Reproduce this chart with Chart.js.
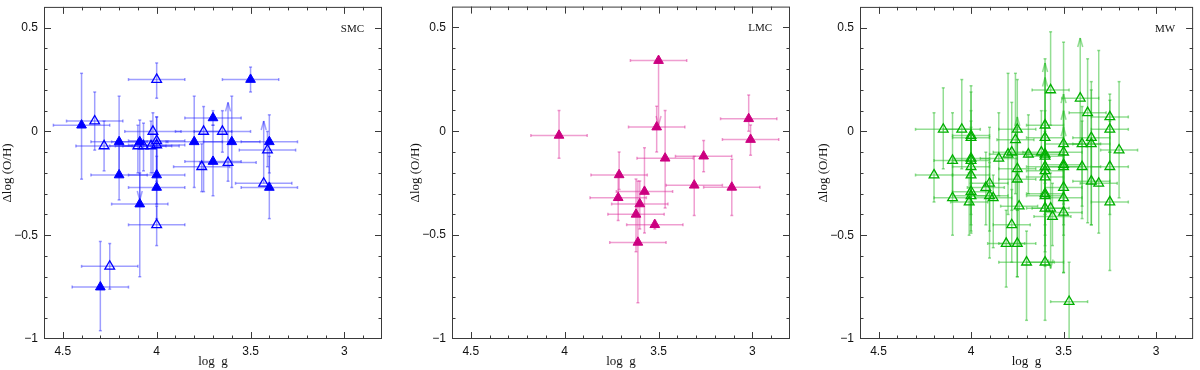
<!DOCTYPE html>
<html>
<head>
<meta charset="utf-8">
<script src="https://cdn.jsdelivr.net/npm/chart.js@4.4.1/dist/chart.umd.min.js"></script>
<style>
  body { margin: 0; background: #fff; }
  #wrap { position: relative; width: 1200px; height: 370px; overflow: hidden; }
  canvas { position: absolute; top: 0; }
</style>
</head>
<body>
<div id="wrap">
  <canvas id="smc" width="408" height="370" style="left:0"></canvas>
  <canvas id="lmc" width="408" height="370" style="left:408px"></canvas>
  <canvas id="mw" width="384" height="370" style="left:816px"></canvas>
</div>
<script>
// axis ticks
const xTickVals = [4.5, 4, 3.5, 3];
const yTickVals = [0.5, 0, -0.5, -1];

// SMC: first 15 filled, rest open
const smcLogg = [4.40, 4.20, 4.20, 4.09, 4.09, 4.00, 4.00, 3.80, 3.70, 3.70, 3.60, 3.50, 3.40, 3.40, 4.30,
                 4.33, 4.28, 4.00, 4.02, 4.00, 4.00, 4.03, 4.10, 4.07, 4.00, 4.25, 3.75, 3.65, 3.62, 3.76, 3.41, 3.43];
const smcDoh = [0.03, -0.05, -0.21, -0.05, -0.35, -0.21, -0.27, -0.05, 0.065, -0.145, -0.05, 0.25, -0.05, -0.27, -0.75,
                0.05, -0.07, 0.25, 0.00, -0.045, -0.065, -0.07, -0.07, -0.07, -0.45, -0.65, 0.00, 0.00, -0.15, -0.17, -0.09, -0.25];
const smcErrX = [0.15, 0.15, 0.15, 0.15, 0.15, 0.15, 0.15, 0.15, 0.15, 0.15, 0.15, 0.15, 0.15, 0.15, 0.15,
                 0.15, 0.15, 0.15, 0.15, 0.15, 0.15, 0.15, 0.15, 0.15, 0.15, 0.15, 0.15, 0.15, 0.15, 0.15, 0.15, 0.15];
const smcLo = [-0.23, -0.20, -0.33, null, -0.70, -0.35, -0.42, -0.27, 0.03, -0.31, -0.27, 0.19, -0.20, -0.42, -0.96,
               -0.09, -0.19, 0.16, -0.20, -0.20, -0.24, -0.20, -0.20, -0.19, -0.55, -0.76, -0.29, -0.10, -0.24, -0.29, -0.17, null];
const smcHi = [0.28, 0.17, -0.05, 0.055, -0.20, -0.05, -0.12, 0.17, 0.10, 0.03, 0.17, 0.31, 0.08, -0.12, -0.53,
               0.19, 0.05, 0.33, 0.09, 0.07, 0.07, 0.05, 0.03, 0.04, -0.36, -0.54, 0.12, 0.10, null, -0.06, 0.00, null];
const smcOpen = [0, 0, 0, 0, 0, 0, 0, 0, 0, 0, 0, 0, 0, 0, 0,
                 1, 1, 1, 1, 1, 1, 1, 1, 1, 1, 1, 1, 1, 1, 1, 1, 1];
const smcLimits = [[3, -0.33], [28, 0.14], [31, 0.05]]; // [point index, arrow tip]

// LMC: all filled
const lmcLogg = [4.03, 3.50, 3.51, 3.465, 3.71, 3.715, 3.575, 3.60, 3.62, 3.52, 3.61, 3.31, 3.26, 3.11, 3.02, 3.01];
const lmcDoh = [-0.02, 0.34, 0.02, -0.13, -0.21, -0.32, -0.29, -0.35, -0.40, -0.45, -0.535, -0.26, -0.12, -0.27, 0.06, -0.04];
const lmcErrX = [0.15, 0.15, 0.15, 0.15, 0.15, 0.15, 0.15, 0.15, 0.15, 0.15, 0.15, 0.15, 0.15, 0.15, 0.15, 0.15];
const lmcLo = [-0.13, null, -0.10, -0.37, -0.28, -0.43, -0.49, -0.47, -0.58, -0.47, -0.825, -0.405, -0.195, -0.405, 0.00, -0.115];
const lmcHi = [0.10, null, 0.12, 0.10, -0.10, -0.20, -0.08, -0.24, -0.23, -0.43, -0.24, -0.12, -0.045, -0.135, 0.175, 0.03];
const lmcOpen = [0, 0, 0, 0, 0, 0, 0, 0, 0, 0, 0, 0, 0, 0, 0, 0];
const lmcLimits = [[1, 0.03]];

// MW: all open
const mwLogg = [
  4.20, 4.15, 4.10, 4.10, 4.05, 4.00, 4.00, 4.00, 4.00, 4.00,
  4.00, 4.00, 4.00, 4.01, 3.92, 3.90, 3.90, 3.88, 3.85, 3.80,
  3.78, 3.81, 3.78, 3.75, 3.76, 3.75, 3.75, 3.74, 3.75, 3.70,
  3.69, 3.62, 3.60, 3.60, 3.60, 3.60, 3.60, 3.60, 3.60, 3.60,
  3.60, 3.60, 3.60, 3.57, 3.57, 3.56, 3.50, 3.50, 3.50, 3.50,
  3.50, 3.50, 3.50, 3.47, 3.41, 3.40, 3.40, 3.37, 3.35, 3.35,
  3.35, 3.31, 3.25, 3.25, 3.25, 3.25, 3.20];
const mwDoh = [
  -0.21, 0.01, -0.14, -0.32, 0.01, -0.02, -0.03, -0.13, -0.14, -0.17,
  -0.21, -0.29, -0.31, -0.34, -0.27, -0.25, -0.31, -0.32, -0.13, -0.11,
  -0.10, -0.54, -0.45, 0.01, -0.04, -0.18, -0.23, -0.36, -0.54, -0.63,
  -0.11, -0.10, 0.03, -0.03, -0.11, -0.12, -0.17, -0.19, -0.22, -0.30,
  -0.31, -0.37, -0.63, 0.20, -0.37, -0.41, -0.06, -0.10, -0.16, -0.17,
  -0.27, -0.32, -0.39, -0.82, 0.16, -0.06, -0.17, 0.09, -0.03, -0.06,
  -0.24, -0.25, 0.07, 0.01, -0.17, -0.34, -0.09];
const mwErrX = [
  0.10, 0.15, 0.10, 0.10, 0.10, 0.10, 0.10, 0.10, 0.10, 0.10,
  0.10, 0.10, 0.10, 0.10, 0.10, 0.10, 0.10, 0.10, 0.10, 0.10,
  0.10, 0.10, 0.10, 0.10, 0.10, 0.10, 0.10, 0.10, 0.10, 0.15,
  0.10, 0.10, 0.10, 0.10, 0.10, 0.10, 0.10, 0.10, 0.10, 0.10,
  0.10, 0.10, 0.10, 0.10, 0.10, 0.10, 0.10, 0.10, 0.10, 0.10,
  0.10, 0.10, 0.10, 0.10, 0.10, 0.10, 0.10, 0.10, 0.10, 0.10,
  0.10, 0.10, 0.10, 0.10, 0.10, 0.10, 0.10];
const mwLo = [
  -0.34, -0.18, -0.30, -0.50, -0.18, -0.20, -0.25, -0.35, -0.30, -0.40,
  -0.45, -0.48, -0.49, -0.50, -0.45, -0.48, -0.61, -0.56, -0.31, -0.40,
  -0.38, -0.75, -0.63, -0.20, -0.30, -0.38, -0.70, -0.55, -0.70, -0.91,
  -0.30, -0.30, -0.20, -0.25, -0.35, -0.32, -0.40, -0.45, -0.50, -0.55,
  -0.58, -0.65, -0.91, 0.03, null, -0.55, -0.30, -0.30, -0.35, -0.45,
  -0.50, -0.68, -0.68, -1.05, -0.05, -0.36, -0.42, -0.44, -0.25, -0.45,
  -0.45, -0.49, -0.10, -0.15, -0.40, -0.67, -0.32];
const mwHi = [
  0.09, 0.21, 0.09, -0.15, 0.25, 0.22, 0.10, 0.05, 0.19, 0.02,
  0.00, -0.12, -0.15, -0.20, -0.10, 0.02, -0.15, -0.21, 0.09, 0.28,
  0.14, -0.38, -0.28, null, 0.28, 0.02, 0.25, -0.18, -0.38, -0.48,
  0.08, 0.10, null, null, 0.35, 0.10, 0.05, 0.02, 0.00, -0.10,
  -0.12, -0.15, -0.40, 0.48, -0.20, -0.25, null, null, null, 0.43,
  -0.05, -0.10, -0.15, -0.63, null, 0.12, 0.05, 0.35, 0.24, 0.20,
  -0.05, 0.39, 0.18, 0.15, 0.05, -0.10, 0.24];
const mwOpen = mwLogg.map(() => 1);
const mwLimits = [[23, 0.07], [32, 0.33], [33, 0.26], [44, -0.66], [46, 0.18], [47, 0.10], [48, 0.02], [54, 0.45]];

Chart.defaults.font.family = '"Liberation Sans", Arial, sans-serif';

// error bars under the markers, frame with inward ticks on top
const errorBars = {
    id: 'errorBars',
    beforeDatasetsDraw(chart) {
        const o = chart.options.plugins.errorBars;
        const { ctx, chartArea: a, scales: { x, y } } = chart;
        const seg = (x1, y1, x2, y2) => { ctx.beginPath(); ctx.moveTo(x1, y1); ctx.lineTo(x2, y2); ctx.stroke(); };
        const tips = new Map(o.limits);
        ctx.save();
        ctx.beginPath();
        ctx.rect(a.left, a.top, a.right - a.left, a.bottom - a.top);
        ctx.clip();
        ctx.strokeStyle = o.color;
        ctx.lineWidth = 1.5;
        o.xs.forEach((xv, i) => {
            const px = x.getPixelForValue(xv), py = y.getPixelForValue(o.ys[i]);
            const xl = x.getPixelForValue(xv + o.errX[i]), xr = x.getPixelForValue(xv - o.errX[i]);
            seg(xl, py, xr, py);
            seg(xl, py - 1.5, xl, py + 1.5);
            seg(xr, py - 1.5, xr, py + 1.5);
            [o.lo[i], o.hi[i]].forEach(v => {
                if (v === null) return;
                const ey = y.getPixelForValue(v);
                seg(px, py, px, ey);
                seg(px - 1.5, ey, px + 1.5, ey);
            });
            if (tips.has(i)) {
                const ty = y.getPixelForValue(tips.get(i));
                const d = ty > py ? -1 : 1;
                seg(px, py, px, ty);
                seg(px - 2.5, ty + d * 9, px, ty);
                seg(px + 2.5, ty + d * 9, px, ty);
            }
        });
        ctx.restore();
    },
    afterDraw(chart) {
        const o = chart.options.plugins.errorBars;
        const { ctx, chartArea: a, scales: { x, y } } = chart;
        const seg = (x1, y1, x2, y2) => { ctx.beginPath(); ctx.moveTo(x1, y1); ctx.lineTo(x2, y2); ctx.stroke(); };
        ctx.save();
        ctx.strokeStyle = '#3a3a3a';
        ctx.lineWidth = 1;
        ctx.strokeRect(a.left + 0.5, a.top + 0.5, a.right - a.left - 1, a.bottom - a.top - 1);
        for (let k = 29; k <= 45; k++) {
            const px = Math.round(x.getPixelForValue(k / 10)) + 0.5;
            const len = k % 5 === 0 ? 7 : 3.5;
            seg(px, a.bottom, px, a.bottom - len);
            seg(px, a.top, px, a.top + len);
        }
        for (let k = -9; k <= 5; k++) {
            const py = Math.round(y.getPixelForValue(k / 10)) + 0.5;
            const len = k % 5 === 0 ? 7 : 3.5;
            seg(a.left, py, a.left + len, py);
            seg(a.right, py, a.right - len, py);
        }
        ctx.fillStyle = '#111';
        ctx.font = '11px "Liberation Serif", serif';
        ctx.textAlign = 'right';
        ctx.textBaseline = 'middle';
        ctx.fillText(o.label, a.right - 18, y.getPixelForValue(0.5) + 1);
        ctx.restore();
    }
};

const fmt = v => String(v).replace('-', '\u2212');

function makePanel(id, width, p) {
    new Chart(document.getElementById(id), {
        type: 'scatter',
        data: {
            datasets: [{
                data: p.xs.map((v, i) => ({ x: v, y: p.ys[i] })),
                pointStyle: 'triangle',
                pointRadius: 5.6,
                pointBorderWidth: c => p.open[c.dataIndex] ? 1.3 : 1,
                pointBorderColor: p.mark,
                pointBackgroundColor: c => p.open[c.dataIndex] ? 'rgba(255,255,255,0)' : p.mark
            }]
        },
        options: {
            responsive: false,
            animation: false,
            devicePixelRatio: 1,
            events: [],
            layout: { padding: { top: 2, right: width - 382, left: 0, bottom: 0 } },
            plugins: {
                legend: { display: false },
                tooltip: { enabled: false },
                errorBars: p
            },
            scales: {
                x: {
                    type: 'linear', reverse: true, min: 2.8, max: 4.6,
                    grid: { display: false, drawTicks: false },
                    border: { display: false },
                    ticks: { color: '#111', font: { size: 12 }, padding: 5, maxRotation: 0, autoSkip: false, callback: fmt },
                    afterBuildTicks: s => { s.ticks = xTickVals.map(v => ({ value: v })); },
                    afterFit: s => { s.height = 31; s.paddingLeft = 0; s.paddingRight = 0; },
                    title: { display: true, text: 'log  g', color: '#111', font: { family: '"Liberation Serif", serif', size: 13 }, padding: { top: 0, bottom: 1 } }
                },
                y: {
                    type: 'linear', min: -1, max: 0.6,
                    grid: { display: false, drawTicks: false },
                    border: { display: false },
                    ticks: { color: '#111', font: { size: 12 }, padding: 6, callback: fmt },
                    afterBuildTicks: s => { s.ticks = yTickVals.map(v => ({ value: v })); },
                    afterFit: s => { s.width = 44; s.paddingTop = 0; s.paddingBottom = 0; },
                    title: { display: true, text: '\u0394log (O/H)', color: '#111', font: { family: '"Liberation Serif", serif', size: 13 }, padding: { top: 0, bottom: 0 } }
                }
            }
        },
        plugins: [errorBars]
    });
}

makePanel('smc', 408, {
    label: 'SMC', mark: '#0000ff', color: 'rgba(40,40,255,0.45)',
    xs: smcLogg, ys: smcDoh, errX: smcErrX, lo: smcLo, hi: smcHi, open: smcOpen, limits: smcLimits
});
makePanel('lmc', 408, {
    label: 'LMC', mark: '#cc0080', color: 'rgba(220,40,150,0.45)',
    xs: lmcLogg, ys: lmcDoh, errX: lmcErrX, lo: lmcLo, hi: lmcHi, open: lmcOpen, limits: lmcLimits
});
makePanel('mw', 384, {
    label: 'MW', mark: '#00b000', color: 'rgba(40,190,40,0.5)',
    xs: mwLogg, ys: mwDoh, errX: mwErrX, lo: mwLo, hi: mwHi, open: mwOpen, limits: mwLimits
});
</script>
</body>
</html>
